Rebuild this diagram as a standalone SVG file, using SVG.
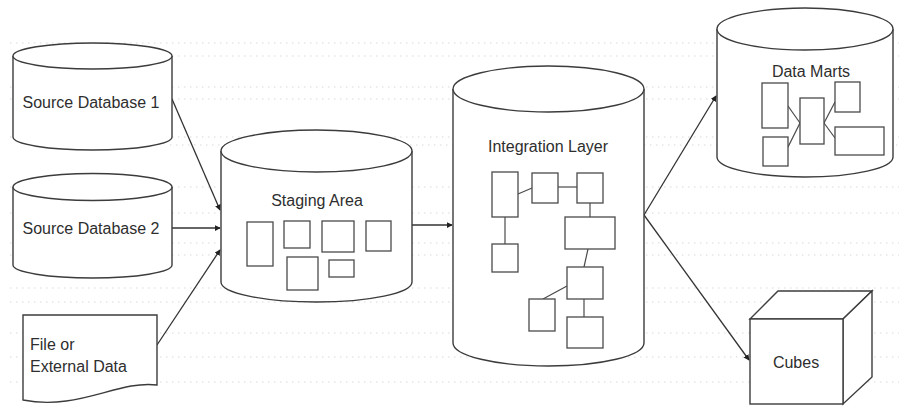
<svg xmlns="http://www.w3.org/2000/svg" width="899" height="409" viewBox="0 0 899 409">
  <style>
    .shape { fill: #ffffff; stroke: #3c3c3c; stroke-width: 1.4; }
    .box { fill: #ffffff; stroke: #4a4a4a; stroke-width: 1.3; }
    .link { fill: none; stroke: #4a4a4a; stroke-width: 1.2; }
    .edge { fill: none; stroke: #333333; stroke-width: 1.3; marker-end: url(#arrow); }
    .label { font-family: "Liberation Sans", Arial, sans-serif; font-size: 16px; fill: #2e2e2e; }
    .dots { stroke: #d9d9d9; stroke-width: 1; stroke-dasharray: 1.5 4.5; }
  </style>
  <defs>
    <marker id="arrow" viewBox="0 0 8 8" refX="7" refY="4" markerWidth="6" markerHeight="6" markerUnits="userSpaceOnUse" orient="auto">
      <path d="M0,0 L8,4 L0,8 Z" fill="#222222"/>
    </marker>
  </defs>

  <rect width="899" height="409" fill="#ffffff"/>

  <!-- faint dotted ruling behind the drawing -->
  <g id="ruling" class="dots">
    <line x1="10" y1="43" x2="899" y2="43"/>
    <line x1="100" y1="56" x2="899" y2="56"/>
    <line x1="10" y1="87" x2="899" y2="87"/>
    <line x1="10" y1="99" x2="899" y2="99"/>
    <line x1="10" y1="137" x2="899" y2="137"/>
    <line x1="170" y1="145" x2="899" y2="145"/>
    <line x1="10" y1="187" x2="899" y2="187"/>
    <line x1="10" y1="213" x2="899" y2="213"/>
    <line x1="10" y1="243" x2="899" y2="243"/>
    <line x1="10" y1="255" x2="899" y2="255"/>
    <line x1="10" y1="288" x2="899" y2="288"/>
    <line x1="10" y1="302" x2="899" y2="302"/>
    <line x1="10" y1="333" x2="899" y2="333"/>
    <line x1="10" y1="357" x2="899" y2="357"/>
    <line x1="10" y1="382" x2="899" y2="382"/>
  </g>

  <!-- connectors -->
  <g id="connectors">
    <line class="edge" x1="172" y1="99" x2="220" y2="210"/>
    <line class="edge" x1="172" y1="228" x2="220" y2="228"/>
    <line class="edge" x1="157" y1="345" x2="220" y2="250"/>
    <line class="edge" x1="412" y1="225" x2="452" y2="225"/>
    <line class="edge" x1="644" y1="215" x2="716" y2="96"/>
    <line class="edge" x1="644" y1="215" x2="749" y2="360"/>
  </g>

  <!-- Source Database 1 -->
  <g id="source-db-1">
    <path class="shape" d="M13,56 L13,137 A79.5,13 0 0 0 172,137 L172,56"/>
    <ellipse class="shape" cx="92.5" cy="56" rx="79.5" ry="13"/>
    <text class="label" x="91" y="108" text-anchor="middle">Source Database 1</text>
  </g>

  <!-- Source Database 2 -->
  <g id="source-db-2">
    <path class="shape" d="M13,187 L13,265 A79.5,13 0 0 0 172,265 L172,187"/>
    <ellipse class="shape" cx="92.5" cy="187" rx="79.5" ry="13.5"/>
    <text class="label" x="91" y="234" text-anchor="middle">Source Database 2</text>
  </g>

  <!-- File or External Data -->
  <g id="external-file">
    <path class="shape" d="M23,315 L157,315 L157,385 C118,380 78,411 23,400 Z"/>
    <text class="label" x="30" y="350">File or</text>
    <text class="label" x="30" y="372">External Data</text>
  </g>

  <!-- Staging Area -->
  <g id="staging-area">
    <path class="shape" d="M221,151 L221,282 A95.5,20 0 0 0 412,282 L412,151"/>
    <ellipse class="shape" cx="316.5" cy="151" rx="95.5" ry="21"/>
    <text class="label" x="317" y="206" text-anchor="middle">Staging Area</text>
    <rect class="box" x="247" y="222" width="26" height="44"/>
    <rect class="box" x="284" y="221" width="26" height="27"/>
    <rect class="box" x="322" y="221" width="32" height="31"/>
    <rect class="box" x="366" y="221" width="25" height="30"/>
    <rect class="box" x="287" y="257" width="31" height="33"/>
    <rect class="box" x="329" y="260" width="25" height="17"/>
  </g>

  <!-- Integration Layer -->
  <g id="integration-layer">
    <path class="shape" d="M453,89 L453,343 A95.5,23 0 0 0 644,343 L644,89"/>
    <ellipse class="shape" cx="548.5" cy="89" rx="95.5" ry="23"/>
    <text class="label" x="548" y="152" text-anchor="middle">Integration Layer</text>
    <g class="link">
      <line x1="518" y1="194" x2="532" y2="188"/>
      <line x1="558" y1="187" x2="577" y2="187"/>
      <line x1="590" y1="203" x2="590" y2="217"/>
      <line x1="505" y1="217" x2="505" y2="244"/>
      <line x1="588" y1="249" x2="584" y2="267"/>
      <line x1="567" y1="286" x2="543" y2="299"/>
      <line x1="584" y1="299" x2="584" y2="317"/>
    </g>
    <rect class="box" x="492" y="172" width="26" height="45"/>
    <rect class="box" x="532" y="173" width="26" height="30"/>
    <rect class="box" x="577" y="173" width="26" height="30"/>
    <rect class="box" x="565" y="217" width="50" height="32"/>
    <rect class="box" x="492" y="244" width="26" height="28"/>
    <rect class="box" x="567" y="267" width="36" height="32"/>
    <rect class="box" x="529" y="299" width="26" height="32"/>
    <rect class="box" x="567" y="317" width="36" height="31"/>
  </g>

  <!-- Data Marts -->
  <g id="data-marts">
    <path class="shape" d="M717,29 L717,157 A88,20 0 0 0 893,157 L893,29"/>
    <ellipse class="shape" cx="805" cy="29" rx="88" ry="21"/>
    <text class="label" x="811" y="77" text-anchor="middle">Data Marts</text>
    <g class="link">
      <line x1="788" y1="106" x2="800" y2="123"/>
      <line x1="788" y1="147" x2="800" y2="123"/>
      <line x1="824" y1="123" x2="835" y2="102"/>
      <line x1="824" y1="123" x2="835" y2="138"/>
    </g>
    <rect class="box" x="762" y="83" width="26" height="45"/>
    <rect class="box" x="763" y="137" width="25" height="29"/>
    <rect class="box" x="800" y="98" width="24" height="46"/>
    <rect class="box" x="835" y="82" width="25" height="30"/>
    <rect class="box" x="835" y="127" width="49" height="28"/>
  </g>

  <!-- Cubes -->
  <g id="cubes">
    <path class="shape" d="M750,319 L778,291 L872,291 L843,319 Z"/>
    <path class="shape" d="M843,319 L872,291 L872,377 L843,404 Z"/>
    <rect class="shape" x="750" y="319" width="93" height="85"/>
    <text class="label" x="796" y="368" text-anchor="middle">Cubes</text>
  </g>
</svg>
